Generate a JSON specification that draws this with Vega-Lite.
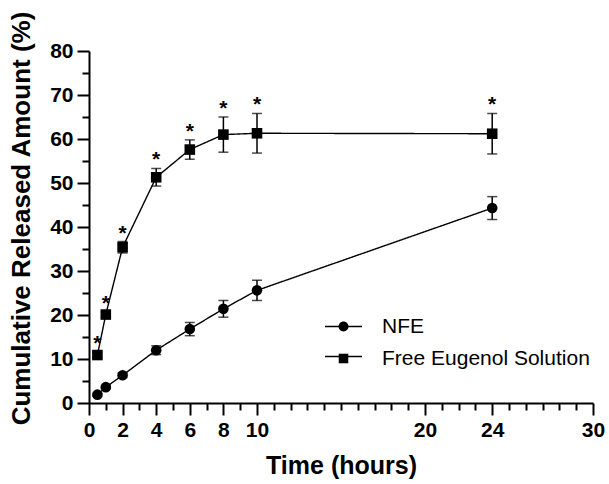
{
  "$schema": "https://vega.github.io/schema/vega-lite/v6.json",
  "width": 504,
  "height": 352,
  "autosize": {"type": "none"},
  "padding": {"left": 89, "top": 51, "right": 16, "bottom": 81},
  "background": "white",
  "config": {
    "view": {"stroke": null},
    "font": "Liberation Sans",
    "axis": {
      "grid": false,
      "domainColor": "black",
      "domainWidth": 2,
      "tickColor": "black",
      "tickWidth": 2,
      "labelFont": "Liberation Sans",
      "labelFontSize": 21,
      "labelFontWeight": "bold",
      "labelColor": "black",
      "labelFlush": false,
      "labelOverlap": false,
      "labelBound": false,
      "titleFont": "Liberation Sans",
      "titleFontWeight": "bold",
      "titleColor": "black"
    }
  },
  "data": {
    "values": [
      {"time": 0.5, "group": "NFE", "value": 1.9, "lower": 1.6, "upper": 2.2, "sig": ""},
      {"time": 1, "group": "NFE", "value": 3.6, "lower": 3.2, "upper": 4.0, "sig": ""},
      {"time": 2, "group": "NFE", "value": 6.3, "lower": 5.8, "upper": 6.8, "sig": ""},
      {"time": 4, "group": "NFE", "value": 12.0, "lower": 11.0, "upper": 13.0, "sig": ""},
      {"time": 6, "group": "NFE", "value": 16.8, "lower": 15.3, "upper": 18.3, "sig": ""},
      {"time": 8, "group": "NFE", "value": 21.4, "lower": 19.5, "upper": 23.3, "sig": ""},
      {"time": 10, "group": "NFE", "value": 25.6, "lower": 23.3, "upper": 27.9, "sig": ""},
      {"time": 24, "group": "NFE", "value": 44.3, "lower": 41.7, "upper": 46.9, "sig": ""},
      {"time": 0.5, "group": "Free Eugenol Solution", "value": 10.9, "lower": 10.3, "upper": 11.5, "sig": "*"},
      {"time": 1, "group": "Free Eugenol Solution", "value": 20.1, "lower": 19.5, "upper": 20.7, "sig": "*"},
      {"time": 2, "group": "Free Eugenol Solution", "value": 35.4, "lower": 34.1, "upper": 36.7, "sig": "*"},
      {"time": 4, "group": "Free Eugenol Solution", "value": 51.3, "lower": 49.3, "upper": 53.3, "sig": "*"},
      {"time": 6, "group": "Free Eugenol Solution", "value": 57.6, "lower": 55.4, "upper": 59.8, "sig": "*"},
      {"time": 8, "group": "Free Eugenol Solution", "value": 61.0, "lower": 57.0, "upper": 65.0, "sig": "*"},
      {"time": 10, "group": "Free Eugenol Solution", "value": 61.3, "lower": 56.8, "upper": 65.8, "sig": "*"},
      {"time": 24, "group": "Free Eugenol Solution", "value": 61.2, "lower": 56.6, "upper": 65.8, "sig": "*"}
    ]
  },
  "encoding": {
    "x": {
      "field": "time",
      "type": "quantitative",
      "scale": {"domain": [0, 30], "nice": false, "zero": false},
      "axis": {
        "title": "Time (hours)",
        "titleFontSize": 25,
        "titlePadding": 13,
        "values": [0,1,2,3,4,5,6,7,8,9,10,11,12,13,14,15,16,17,18,19,20,21,22,23,24,25,26,27,28,29,30],
        "labelExpr": "indexof([0,2,4,6,8,10,20,24,30], datum.value) >= 0 ? datum.label : ''",
        "tickSize": {"condition": {"test": "indexof([0,2,4,6,8,10,20,24,30], datum.value) >= 0", "value": 12}, "value": 7},
        "labelPadding": 4
      }
    },
    "y": {
      "field": "value",
      "type": "quantitative",
      "scale": {"domain": [0, 80], "nice": false},
      "axis": {
        "title": "Cumulative Released Amount (%)",
        "titleFontSize": 26,
        "titlePadding": 15,
        "titleY": 167,
        "values": [0,5,10,15,20,25,30,35,40,45,50,55,60,65,70,75,80],
        "labelExpr": "datum.value % 10 === 0 ? datum.label : ''",
        "tickSize": {"condition": {"test": "datum.value % 10 === 0", "value": 12}, "value": 7},
        "labelPadding": 4
      }
    }
  },
  "layer": [
    {
      "mark": {"type": "line", "color": "black", "strokeWidth": 1.4},
      "encoding": {
        "detail": {"field": "group"},
        "order": {"field": "time"},
        "strokeDash": {
          "field": "group",
          "type": "nominal",
          "scale": {"domain": ["NFE", "Free Eugenol Solution"], "range": [[1, 0], [1, 0]]},
          "legend": {
            "title": null,
            "orient": "none",
            "legendX": 235,
            "legendY": 256,
            "padding": 0,
            "symbolType": "stroke",
            "symbolSize": 1369,
            "symbolStrokeColor": "black",
            "symbolStrokeWidth": 1.5,
            "symbolOpacity": 1,
            "labelFont": "Liberation Sans",
            "labelFontSize": 21,
            "labelExpr": "''",
            "rowPadding": 0
          }
        }
      }
    },
    {
      "mark": {"type": "errorbar", "color": "black", "thickness": 1.5, "ticks": {"size": 10, "thickness": 1.5}},
      "encoding": {
        "y": {"field": "lower", "type": "quantitative"},
        "y2": {"field": "upper"},
        "detail": {"field": "group"}
      }
    },
    {
      "mark": {"type": "point", "filled": true, "opacity": 1, "color": "black", "size": 112},
      "encoding": {
        "shape": {
          "field": "group",
          "type": "nominal",
          "scale": {"domain": ["NFE", "Free Eugenol Solution"], "range": ["circle", "square"]},
          "legend": null
        }
      }
    },
    {
      "transform": [{"filter": "datum.time < 0"}],
      "mark": {"type": "point", "filled": true, "opacity": 1, "color": "black"},
      "encoding": {
        "shape": {
          "field": "group",
          "type": "nominal",
          "scale": {
            "domain": ["NFE", "Free Eugenol Solution"],
            "range": [
              "M-0.3,0A0.3,0.3 0 1,1 0.3,0A0.3,0.3 0 1,1 -0.3,0Z",
              "M-0.29,-0.29H0.29V0.29H-0.29Z"
            ]
          },
          "legend": {
            "title": null,
            "orient": "none",
            "legendX": 237,
            "legendY": 258,
            "padding": 0,
            "symbolSize": 1089,
            "symbolFillColor": "black",
            "symbolOpacity": 1,
            "labelFont": "Liberation Sans",
            "labelFontSize": 21,
            "labelColor": "black",
            "labelLimit": 400,
            "labelOffset": 21,
            "rowPadding": 4
          }
        }
      }
    },
    {
      "mark": {"type": "text", "color": "black", "fontSize": 21, "fontWeight": "bold", "baseline": "alphabetic", "dy": -2, "font": "Liberation Sans"},
      "encoding": {
        "y": {"field": "upper", "type": "quantitative"},
        "text": {"field": "sig"}
      }
    }
  ],
  "resolve": {"scale": {"shape": "independent"}, "legend": {"shape": "independent"}}
}
